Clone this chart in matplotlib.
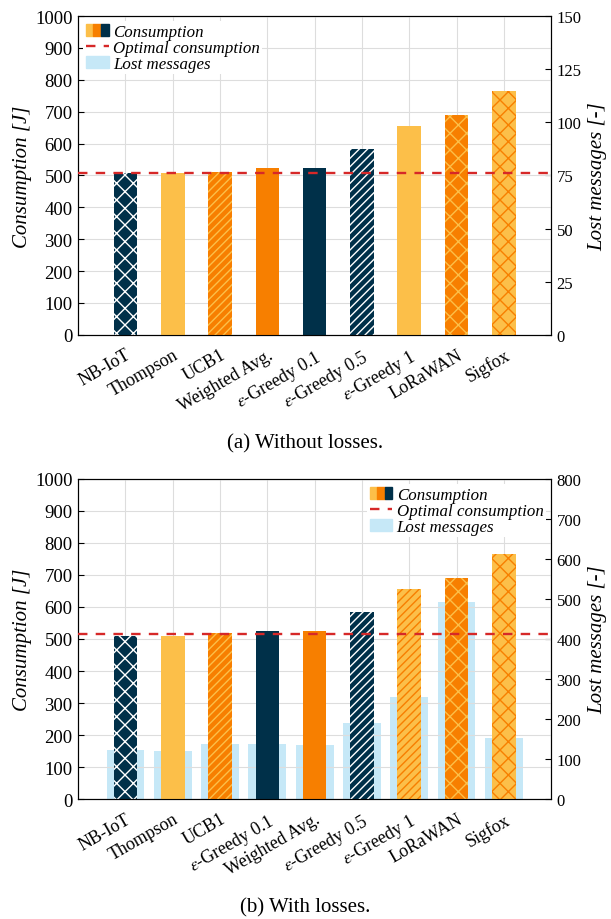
import matplotlib
matplotlib.use("Agg")
import matplotlib.pyplot as plt
from matplotlib.patches import Patch
from matplotlib.lines import Line2D
from matplotlib.legend_handler import HandlerTuple

NAVY = "#003049"
LIGHT_ORANGE = "#FCBF49"
ORANGE = "#F77F00"
RED = "#D62828"
LOST_BLUE = "#c6e8f7"

plt.rcParams["font.family"] = ["Liberation Serif", "DejaVu Serif"]
plt.rcParams["mathtext.fontset"] = "stix"
plt.rcParams["hatch.linewidth"] = 1.0

# (a) without losses
labels_a = ["NB-IoT", "Thompson", "UCB1", "Weighted Avg.", r"$\epsilon$-Greedy 0.1",
            r"$\epsilon$-Greedy 0.5", r"$\epsilon$-Greedy 1", "LoRaWAN", "Sigfox"]
consumption_a = [508, 508, 512, 523, 523, 583, 656, 690, 765]
lost_a = [0, 0, 0, 0, 0, 0, 0, 0, 0]
optimal_a = 509

# (b) with losses
labels_b = ["NB-IoT", "Thompson", "UCB1", r"$\epsilon$-Greedy 0.1", "Weighted Avg.",
            r"$\epsilon$-Greedy 0.5", r"$\epsilon$-Greedy 1", "LoRaWAN", "Sigfox"]
consumption_b = [509, 509, 519, 525, 525, 583, 656, 690, 765]
lost_b = [122, 120, 137, 137, 134, 190, 254, 492, 153]
optimal_b = 517

# (face colour, hatch colour, hatch) per bar
styles_a = [(NAVY, "white", "xx"), (LIGHT_ORANGE, LIGHT_ORANGE, ""),
            (ORANGE, LIGHT_ORANGE, "////"), (ORANGE, ORANGE, ""),
            (NAVY, NAVY, ""), (NAVY, "white", "////"),
            (LIGHT_ORANGE, LIGHT_ORANGE, ""), (ORANGE, LIGHT_ORANGE, "xx"),
            (LIGHT_ORANGE, ORANGE, "xx")]
styles_b = [(NAVY, "white", "xx"), (LIGHT_ORANGE, LIGHT_ORANGE, ""),
            (ORANGE, LIGHT_ORANGE, "////"), (NAVY, NAVY, ""),
            (ORANGE, ORANGE, ""), (NAVY, "white", "////"),
            (LIGHT_ORANGE, ORANGE, "////"), (ORANGE, LIGHT_ORANGE, "xx"),
            (LIGHT_ORANGE, ORANGE, "xx")]


def draw_panel(ax, labels, consumption, lost, optimal, styles, lost_max, lost_step, legend_loc):
    x = list(range(1, len(labels) + 1))
    ax2 = ax.twinx()
    ax2.bar(x, lost, width=0.8, color=LOST_BLUE, linewidth=0)
    for xi, val, (fc, hc, hatch) in zip(x, consumption, styles):
        ax.bar(xi, val, width=0.5, color=fc, edgecolor=hc, hatch=hatch, linewidth=0, zorder=2)
    ax.axhline(optimal, color=RED, linestyle=(0, (4, 3.5)), linewidth=1.7, zorder=3)

    ax.set_zorder(ax2.get_zorder() + 1)
    ax.patch.set_visible(False)

    ax.set_xlim(0, 10)
    ax.set_ylim(0, 1000)
    ax.set_yticks(range(0, 1001, 100))
    ax.set_xticks(x)
    ax.set_xticklabels(labels, rotation=30, ha="right", rotation_mode="anchor", fontsize=13)
    ax2.set_ylim(0, lost_max)
    ax2.set_yticks(range(0, lost_max + 1, lost_step))
    ax.grid(True, color="#dddddd", linewidth=0.8, zorder=0)
    ax.set_axisbelow(True)
    ax.tick_params(axis="y", direction="in", labelsize=13.5, length=4, pad=4)
    ax.tick_params(axis="x", direction="in", length=4, pad=8)
    ax2.tick_params(direction="in", labelsize=12, length=4, pad=4)
    ax.set_ylabel("Consumption [J]", fontstyle="italic", fontsize=15, labelpad=2)
    ax2.set_ylabel("Lost messages [-]", fontstyle="italic", fontsize=15, labelpad=5)

    handles = [(Patch(color=LIGHT_ORANGE), Patch(color=ORANGE), Patch(color=NAVY)),
               Line2D([], [], color=RED, linestyle=(0, (4, 3.5)), linewidth=1.7),
               Patch(color=LOST_BLUE)]
    names = ["Consumption", "Optimal consumption", "Lost messages"]
    ax.legend(handles, names, loc=legend_loc, handler_map={tuple: HandlerTuple(ndivide=None, pad=0)},
              prop={"style": "italic", "size": 12.2}, frameon=True, framealpha=1,
              edgecolor="none", fancybox=False, borderpad=0.15, labelspacing=0.0,
              handlelength=1.35, handletextpad=0.25, borderaxespad=0.3)


fig = plt.figure(figsize=(6.11, 9.2), dpi=100)
ax_a = fig.add_axes([0.128, 0.635, 0.774, 0.3465])
ax_b = fig.add_axes([0.128, 0.1304, 0.774, 0.3479])

draw_panel(ax_a, labels_a, consumption_a, lost_a, optimal_a, styles_a, 150, 25, "upper left")
draw_panel(ax_b, labels_b, consumption_b, lost_b, optimal_b, styles_b, 800, 100, "upper right")

fig.text(0.5, 1 - 444 / 920, "(a) Without losses.", ha="center", va="center", fontsize=15)
fig.text(0.5, 1 - 908 / 920, "(b) With losses.", ha="center", va="center", fontsize=15)

fig.savefig("out.png", dpi=100)
